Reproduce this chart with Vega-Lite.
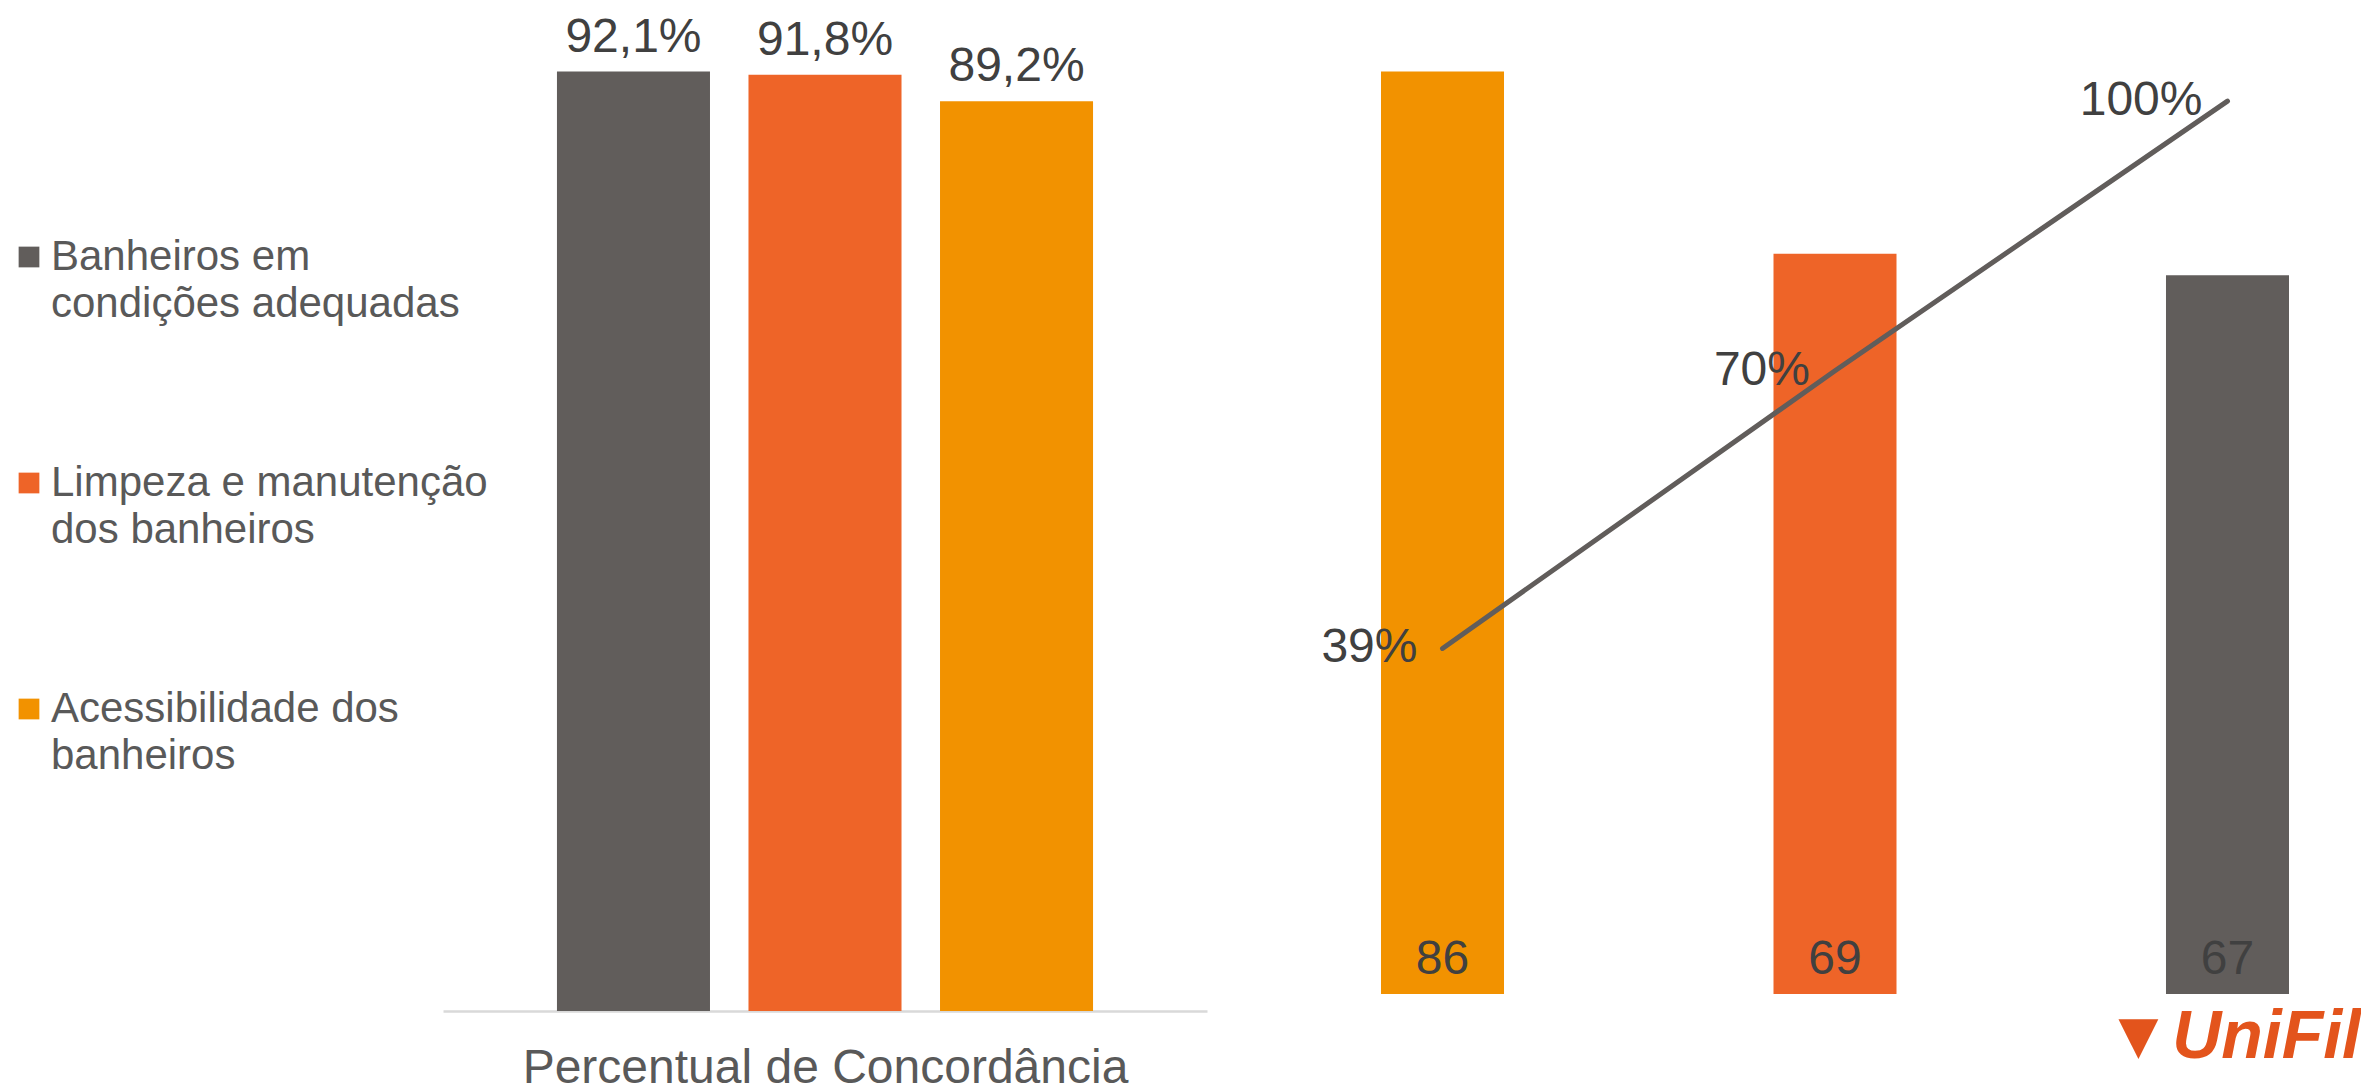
{
  "$schema": "https://vega.github.io/schema/vega-lite/v6.json",
  "padding": {"left": 8, "top": 10, "right": 0, "bottom": 0},
  "autosize": {"type": "pad"},
  "background": "white",
  "bounds": "flush",
  "spacing": 124,
  "config": {
    "locale": {"number": {"decimal": ",", "thousands": ".", "grouping": [3], "currency": ["R$", ""]}},
    "view": {"stroke": null},
    "font": "Liberation Sans",
    "style": {"guide-label": {"lineHeight": 47}}
  },
  "resolve": {"scale": {"color": "independent"}, "legend": {"color": "independent"}},
  "hconcat": [
    {
      "width": 764,
      "height": 1001,
      "data": {"values": [
        {"serie": "Banheiros em condições adequadas", "pct": 0.921},
        {"serie": "Limpeza e manutenção dos banheiros", "pct": 0.918},
        {"serie": "Acessibilidade dos banheiros", "pct": 0.892}
      ]},
      "encoding": {
        "x": {"field": "serie", "type": "nominal", "sort": null,
          "scale": {"paddingInner": 0.201, "paddingOuter": 0.595},
          "axis": {"title": "Percentual de Concordância", "labels": false, "ticks": false, "grid": false,
            "domainColor": "#D9D9D9", "domainWidth": 2.5, "titleFontSize": 48, "titleFontWeight": "normal",
            "titleColor": "#595959", "titlePadding": 33, "titleFont": "Liberation Sans"}},
        "y": {"field": "pct", "type": "quantitative", "scale": {"domain": [0, 0.9814], "nice": false}, "axis": null}
      },
      "layer": [
        {"mark": {"type": "bar"},
         "encoding": {"color": {"field": "serie", "type": "nominal", "sort": null,
           "scale": {"domain": ["Banheiros em condições adequadas", "Limpeza e manutenção dos banheiros", "Acessibilidade dos banheiros"],
                     "range": ["#615D5B", "#EE6428", "#F29200"]},
           "legend": {"title": null, "orient": "none", "legendX": -435, "legendY": 226, "padding": 0,
             "symbolType": "square", "symbolSize": 430, "symbolStrokeWidth": 0,
             "labelFontSize": 42, "labelColor": "#595959", "labelFont": "Liberation Sans", "labelOffset": 1,
             "labelLimit": 700, "rowPadding": 137, "labelBaseline": "middle",
             "labelExpr": "datum.label == 'Banheiros em condições adequadas' ? ['Banheiros em', 'condições adequadas'] : datum.label == 'Limpeza e manutenção dos banheiros' ? ['Limpeza e manutenção', 'dos banheiros'] : ['Acessibilidade dos', 'banheiros']"}}}},
        {"mark": {"type": "text", "dy": -20, "baseline": "alphabetic", "fontSize": 48, "color": "#404040"},
         "encoding": {"text": {"field": "pct", "type": "quantitative", "format": ".1%"}}}
      ]
    },
    {
      "width": 1008,
      "height": 984,
      "title": {"text": "▼UniFil", "orient": "bottom", "anchor": "end", "fontSize": 68, "fontStyle": "italic",
        "fontWeight": 900, "color": "#E3541C", "font": "Liberation Sans", "dx": 22, "offset": 10},
      "data": {"values": [
        {"serie": "Acessibilidade dos banheiros", "n": 86, "cum": 0.387},
        {"serie": "Limpeza e manutenção dos banheiros", "n": 69, "cum": 0.698},
        {"serie": "Banheiros em condições adequadas", "n": 67, "cum": 1.0}
      ]},
      "encoding": {
        "x": {"field": "serie", "type": "nominal", "sort": null,
          "scale": {"paddingInner": 0.6866, "paddingOuter": 0.1274}, "axis": null}
      },
      "layer": [
        {"layer": [
          {"mark": {"type": "bar"},
           "encoding": {
             "y": {"field": "n", "type": "quantitative", "scale": {"domain": [0, 91.73], "nice": false}, "axis": null},
             "color": {"field": "serie", "type": "nominal",
               "scale": {"domain": ["Banheiros em condições adequadas", "Limpeza e manutenção dos banheiros", "Acessibilidade dos banheiros"],
                         "range": ["#615D5B", "#EE6428", "#F29200"]},
               "legend": null}}},
          {"mark": {"type": "text", "baseline": "alphabetic", "dy": -20, "fontSize": 48, "color": "#404040"},
           "encoding": {"y": {"datum": 0, "type": "quantitative"}, "text": {"field": "n", "type": "quantitative"}}}
        ]},
        {"layer": [
          {"mark": {"type": "line", "color": "#615D5B", "strokeWidth": 5, "strokeCap": "round"},
           "encoding": {
             "y": {"field": "cum", "type": "quantitative", "scale": {"domain": [0, 1.102], "nice": false}, "axis": null},
             "order": {"field": "cum", "type": "quantitative"}}},
          {"mark": {"type": "text", "align": "right", "baseline": "middle", "dx": -25, "fontSize": 48, "color": "#404040"},
           "encoding": {
             "y": {"field": "cum", "type": "quantitative"},
             "text": {"field": "cum", "type": "quantitative", "format": ".0%"}}}
        ]}
      ],
      "resolve": {"scale": {"y": "independent"}}
    }
  ]
}
